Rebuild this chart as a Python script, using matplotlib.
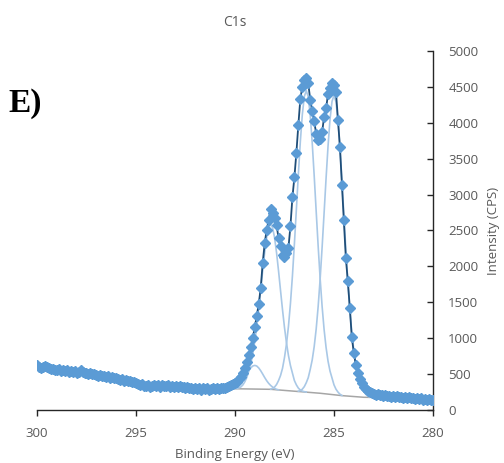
import numpy as np
import matplotlib
matplotlib.use("Agg")
import matplotlib.pyplot as plt

# measured spectrum, 300.0 -> 280.0 eV in 0.1 eV steps
binding_energy = np.round(np.linspace(300.0, 280.0, 201), 1)
intensity = [
    620, 600, 585, 600, 610, 605, 580, 570, 565, 560,
    555, 565, 545, 550, 540, 555, 535, 545, 530, 540,
    520, 535, 555, 530, 515, 520, 500, 510, 495, 505,
    490, 480, 488, 470, 475, 460, 470, 450, 455, 440,
    445, 430, 420, 430, 410, 415, 400, 405, 390, 395,
    375, 365, 350, 360, 340, 330, 345, 320, 335, 350,
    330, 345, 325, 350, 330, 340, 345, 325, 335, 320,
    340, 325, 330, 315, 325, 305, 320, 300, 310, 295,
    305, 290, 300, 285, 300, 290, 305, 285, 295, 300,
    290, 305, 295, 300, 302, 310, 318, 328, 345, 360,
    375, 395, 425, 460, 515, 580, 665, 770, 880, 1005,
    1155, 1310, 1480, 1700, 2050, 2320, 2510, 2640, 2800, 2750,
    2680, 2580, 2390, 2280, 2160, 2130, 2180, 2260, 2560, 2960,
    3240, 3580, 3970, 4330, 4500, 4590, 4620, 4550, 4320, 4170,
    4020, 3850, 3760, 3770, 3870, 4080, 4200, 4400, 4490, 4550,
    4520, 4430, 4040, 3660, 3140, 2640, 2110, 1790, 1420, 1010,
    800, 630, 520, 430, 370, 320, 290, 265, 250, 240,
    225, 215, 225, 205, 210, 195, 205, 190, 200, 185,
    190, 180, 190, 175, 180, 170, 180, 165, 175, 160,
    170, 155, 165, 150, 160, 145, 155, 140, 150, 135,
    145,
]

# fitted components (background included), 0.1 eV steps
comp_a_range = (286.8, 283.2)
comp_a = [262, 270, 290, 325, 380, 450, 565, 697, 882, 1126,
          1440, 1822, 2265, 2742, 3226, 3678, 4050, 4297, 4382, 4291,
          4038, 3660, 3202, 2713, 2231, 1783, 1397, 1078, 830, 641,
          505, 410, 320, 260, 220, 195, 180]
comp_b_range = (288.2, 284.6)
comp_b = [290, 300, 320, 355, 410, 480, 580, 731, 918, 1164,
          1480, 1864, 2312, 2793, 3281, 3737, 4113, 4363, 4449, 4359,
          4104, 3724, 3264, 2771, 2285, 1833, 1444, 1122, 871, 679,
          541, 446, 350, 290, 250, 220, 203]
comp_c_range = (290.0, 286.4)
comp_c = [297, 300, 308, 322, 350, 395, 455, 544, 646, 782,
          956, 1167, 1412, 1677, 1946, 2196, 2403, 2540, 2588, 2538,
          2398, 2189, 1936, 1664, 1397, 1149, 936, 759, 620, 515,
          410, 350, 305, 278, 263, 255, 250]
comp_d_range = (290.2, 287.8)
comp_d = [297, 305, 315, 328, 349, 377, 413, 457, 503, 549,
          587, 613, 621, 612, 585, 546, 500, 452, 408, 371,
          342, 319, 300, 288, 281]

bg_be = [291.0, 288.2, 286.7, 285.7, 284.6, 283.5, 283.0]
bg = [300, 288, 255, 233, 200, 177, 175]

x_ticks = [300, 295, 290, 285, 280]
y_ticks = [0, 500, 1000, 1500, 2000, 2500, 3000, 3500, 4000, 4500, 5000]

text_grey = "#595959"
plt.rcParams["font.family"] = ["Open Sans", "DejaVu Sans"]

fig = plt.figure(figsize=(5.04, 4.63), dpi=100)
ax = fig.add_axes([0.0734, 0.1145, 0.7857, 0.7754])

ax.plot(bg_be, bg, color="#A6A6A6", lw=1.1, zorder=2)
for rng, vals in [(comp_a_range, comp_a), (comp_b_range, comp_b),
                  (comp_c_range, comp_c), (comp_d_range, comp_d)]:
    xs = np.linspace(rng[0], rng[1], len(vals))
    ax.plot(xs, vals, color="#A9C8E6", lw=1.2, zorder=2)

ax.plot(binding_energy, intensity, color="#1F4E79", lw=1.3, zorder=3)
ax.plot(binding_energy, intensity, ls="none", marker="D", ms=4.8,
        color="#5B9BD5", mec="#5B9BD5", zorder=4)

ax.set_xlim(300, 280)
ax.set_ylim(0, 5000)
ax.set_xticks(x_ticks)
ax.set_yticks(y_ticks)

ax.yaxis.tick_right()
ax.yaxis.set_label_position("right")
for s in ["top", "left"]:
    ax.spines[s].set_visible(False)
for s in ["bottom", "right"]:
    ax.spines[s].set_color("#262626")
    ax.spines[s].set_linewidth(1.0)

ax.tick_params(axis="x", direction="out", length=4, width=1, color="#262626",
               labelsize=9.5, labelcolor=text_grey, pad=8)
ax.tick_params(axis="y", direction="in", length=4, width=1, color="#262626",
               labelsize=9.5, labelcolor=text_grey, pad=11)

ax.set_xlabel("Binding Energy (eV)", fontsize=9.5, color=text_grey, labelpad=6)
ax.set_ylabel("Intensity (CPS)", fontsize=9.5, color=text_grey, labelpad=6)
ax.set_title("C1s", fontsize=10, color=text_grey, pad=18)

fig.text(0.016, 0.758, "E)", fontsize=24, fontweight="bold",
         family="Liberation Serif", color="black")

fig.savefig("out.png", dpi=100)
